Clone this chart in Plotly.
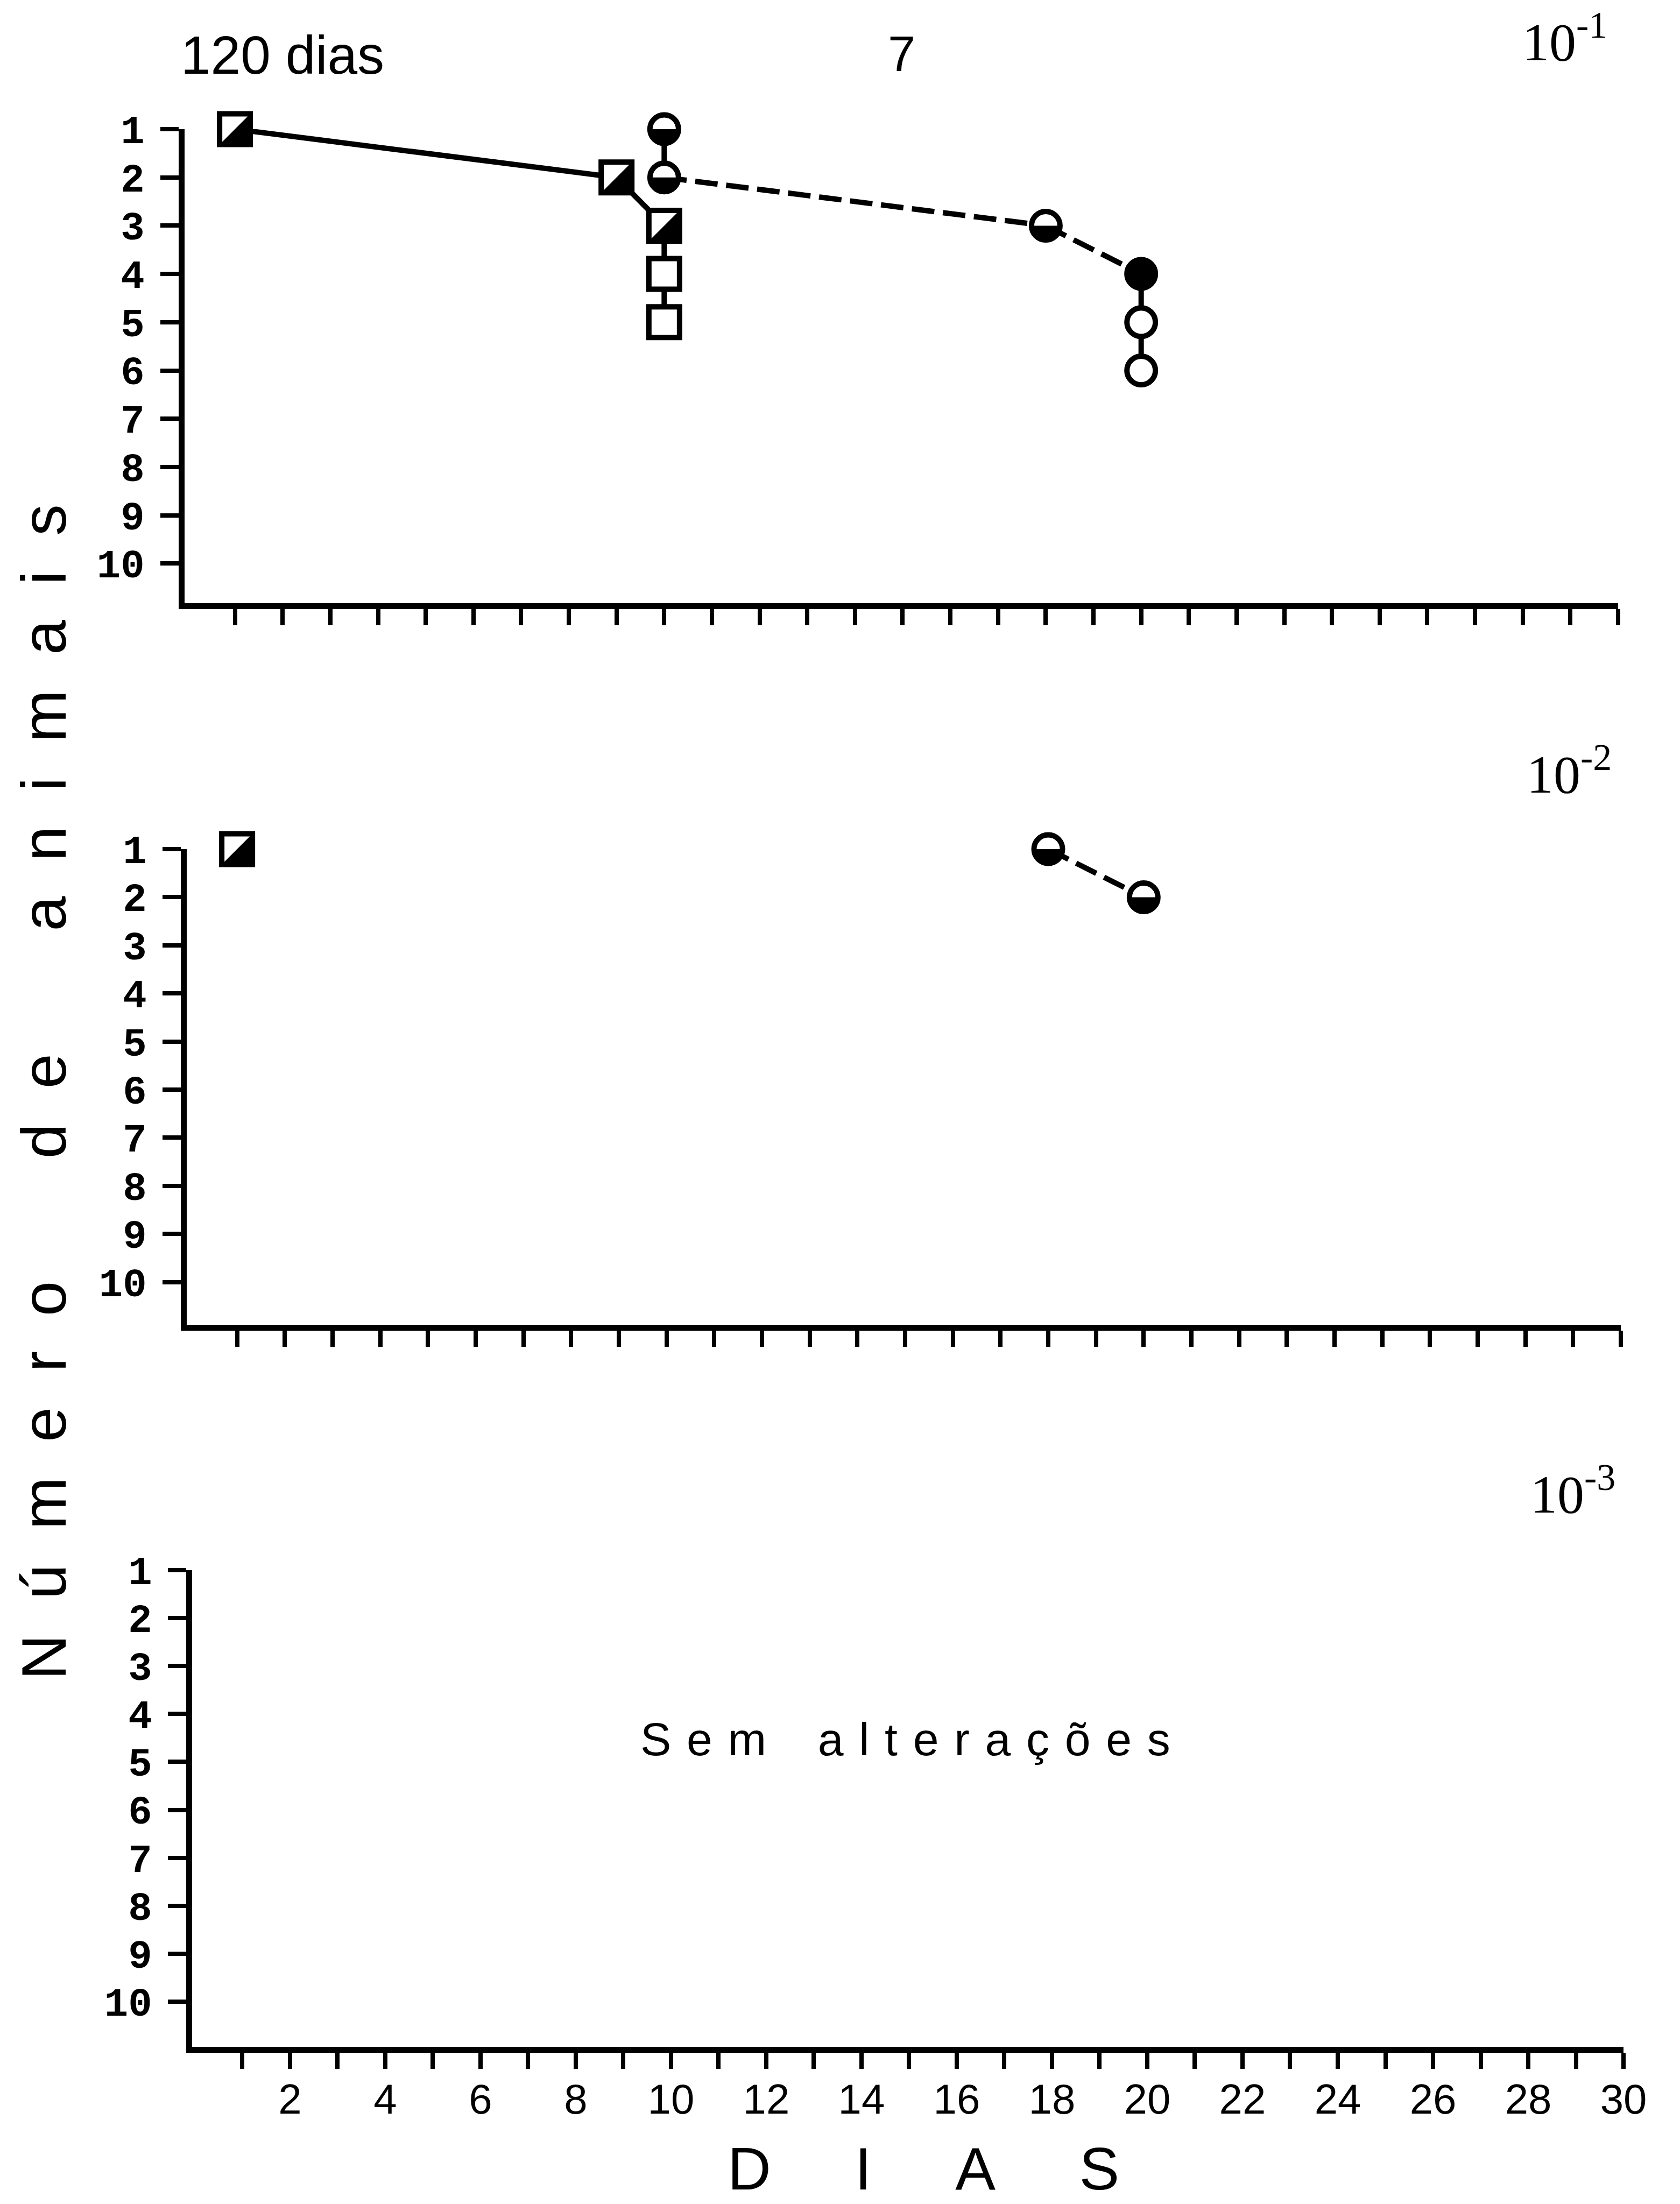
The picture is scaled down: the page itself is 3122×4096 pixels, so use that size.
import plotly.graph_objects as go

W, H = 3122, 4096

# ---------------- data ----------------
# Panel 10^-1
sq_days_1 = [1, 9, 10, 10, 10]
sq_n_1 = [1, 2, 3, 4, 5]
sq_fill_1 = ["half", "half", "half", "open", "open"]
ci_days_1 = [10, 10, 18, 20, 20, 20]
ci_n_1 = [1, 2, 3, 4, 5, 6]
ci_fill_1 = ["half", "half", "half", "full", "open", "open"]
# Panel 10^-2
sq_days_2 = [1]
sq_n_2 = [1]
sq_fill_2 = ["half"]
ci_days_2 = [18, 20]
ci_n_2 = [1, 2]
ci_fill_2 = ["half", "half"]
# Panel 10^-3 : no data ("Sem alterações")

y_tick_vals = list(range(1, 11))
x_label_vals = list(range(2, 31, 2))
x_minor_vals = list(range(1, 30, 2))
dilution_labels = ["10<sup>-1</sup>", "10<sup>-2</sup>", "10<sup>-3</sup>"]

# ---------------- geometry / style ----------------
LW = 11          # axis line width
LINE_W = 10      # data line width
SQ = 57          # square marker size
CI = 53          # circle marker size
MLW = 10         # marker outline width
EXT = 70         # extra px for hidden shape axes
XTL = 30         # x tick length
PANELS = [
    dict(xl=337, xr=3007, ytop=240, yline=1126, ppu=89.7, lab=(2827, 115)),
    dict(xl=341, xr=3012, ytop=1578, yline=2467, ppu=89.4, lab=(2835, 1476)),
    dict(xl=351, xr=3017, ytop=2918, yline=3809, ppu=89.1, lab=(2842, 2814)),
]

layout = dict(
    width=W, height=H, margin=dict(l=0, r=0, t=0, b=0, pad=0, autoexpand=False),
    paper_bgcolor="white", plot_bgcolor="rgba(0,0,0,0)", showlegend=False,
    font=dict(family="Liberation Sans", color="black"),
)

for i, p in enumerate(PANELS):
    sfx = "" if i == 0 else str(i + 1)
    ppx = (p["xr"] - p["xl"]) / 30.0
    x_dom = [(p["xl"] + LW / 2) / W, p["xr"] / W]
    x_min = -(LW / 2) / ppx
    y_bot_px = p["yline"] - LW / 2
    y_dom = [1 - y_bot_px / H, 1 - p["ytop"] / H]
    y_low = 1 + (y_bot_px - p["ytop"]) / p["ppu"]
    layout["xaxis" + sfx] = dict(
        domain=x_dom, range=[x_min, 30], anchor="y" + sfx, automargin=False,
        showline=True, linewidth=LW, linecolor="black",
        ticks="outside", ticklen=XTL, tickwidth=8, tickcolor="black",
        tickmode="array", tickvals=x_label_vals,
        ticktext=[str(v) for v in x_label_vals],
        minor=dict(tickmode="array", tickvals=x_minor_vals, ticks="outside",
                   ticklen=XTL, tickwidth=8, tickcolor="black", showgrid=False),
        showticklabels=(i == 2), ticklabelstandoff=-10,
        tickfont=dict(family="Liberation Sans", size=78, color="black"),
        showgrid=False, zeroline=False, fixedrange=True,
    )
    layout["yaxis" + sfx] = dict(
        domain=y_dom, range=[y_low, 1], anchor="x" + sfx, automargin=False,
        showline=True, linewidth=LW, linecolor="black",
        ticks="outside", ticklen=34, tickwidth=8, tickcolor="black",
        tickmode="array", tickvals=y_tick_vals,
        ticktext=[str(v) for v in y_tick_vals], ticklabelstandoff=14,
        tickfont=dict(family="Liberation Mono", size=74, color="black", weight="bold"),
        showgrid=False, zeroline=False, fixedrange=True,
    )
    if i < 2:
        # hidden twin y axis (same scale, taller domain) used for the half-fill shapes
        layout["yaxis" + str(i + 4)] = dict(
            domain=[y_dom[0], min(1.0, y_dom[1] + EXT / H)],
            range=[y_low, 1 - EXT / p["ppu"]],
            anchor="x" + sfx, visible=False, fixedrange=True, automargin=False,
        )

fig = go.Figure()

def add_panel(i, sq_d, sq_n, sq_f, ci_d, ci_n, ci_f):
    sfx = "" if i == 0 else str(i + 1)
    xa, ya = "x" + sfx, "y" + sfx
    # square series: solid line
    if len(sq_d) > 1:
        fig.add_trace(go.Scatter(x=sq_d, y=sq_n, mode="lines", xaxis=xa, yaxis=ya,
                                 line=dict(color="black", width=LINE_W), cliponaxis=False,
                                 hoverinfo="skip"))
    # circle series: vertical links solid, day-to-day links dashed
    sx, sy, dx, dy = [], [], [], []
    for k in range(len(ci_d) - 1):
        if ci_d[k] == ci_d[k + 1]:
            sx += [ci_d[k], ci_d[k + 1], None]; sy += [ci_n[k], ci_n[k + 1], None]
        else:
            dx += [ci_d[k], ci_d[k + 1], None]; dy += [ci_n[k], ci_n[k + 1], None]
    if sx:
        fig.add_trace(go.Scatter(x=sx, y=sy, mode="lines", xaxis=xa, yaxis=ya,
                                 line=dict(color="black", width=LINE_W), cliponaxis=False,
                                 hoverinfo="skip"))
    if dx:
        fig.add_trace(go.Scatter(x=dx, y=dy, mode="lines", xaxis=xa, yaxis=ya,
                                 line=dict(color="black", width=LINE_W, dash="42px,16px"),
                                 cliponaxis=False, hoverinfo="skip"))
    # markers
    fig.add_trace(go.Scatter(x=sq_d, y=sq_n, mode="markers", xaxis=xa, yaxis=ya,
                             marker=dict(symbol="square", size=SQ,
                                         color=["black" if f == "full" else "white" for f in sq_f],
                                         line=dict(color="black", width=MLW)),
                             cliponaxis=False, hoverinfo="skip"))
    fig.add_trace(go.Scatter(x=ci_d, y=ci_n, mode="markers", xaxis=xa, yaxis=ya,
                             marker=dict(symbol="circle", size=CI,
                                         color=["black" if f == "full" else "white" for f in ci_f],
                                         line=dict(color="black", width=MLW)),
                             cliponaxis=False, hoverinfo="skip"))
    # dummy trace on hidden twin axis so that its subplot exists
    yh = "y" + str(i + 4)
    fig.add_trace(go.Scatter(x=[None], y=[None], mode="markers", xaxis=xa, yaxis=yh,
                             hoverinfo="skip"))
    # half fills as pixel-sized shapes anchored on the data values
    h = SQ / 2
    tri = f"M{h},{h} L{h},{-h} L{-h},{-h} Z"
    R = CI / 2
    k = 0.5523 * R
    semi = f"M{-R},0 C{-R},{-k} {-k},{-R} 0,{-R} C{k},{-R} {R},{-k} {R},0 Z"
    for d, n, f in zip(sq_d, sq_n, sq_f):
        if f == "half":
            fig.add_shape(type="path", xref=xa, yref=yh, xsizemode="pixel", ysizemode="pixel",
                          xanchor=d, yanchor=n, path=tri, fillcolor="black",
                          line=dict(width=0), layer="above")
    for d, n, f in zip(ci_d, ci_n, ci_f):
        if f == "half":
            fig.add_shape(type="path", xref=xa, yref=yh, xsizemode="pixel", ysizemode="pixel",
                          xanchor=d, yanchor=n, path=semi, fillcolor="black",
                          line=dict(width=0), layer="above")

add_panel(0, sq_days_1, sq_n_1, sq_fill_1, ci_days_1, ci_n_1, ci_fill_1)
add_panel(1, sq_days_2, sq_n_2, sq_fill_2, ci_days_2, ci_n_2, ci_fill_2)

# empty third panel needs a trace reference too
fig.add_trace(go.Scatter(x=[None], y=[None], xaxis="x3", yaxis="y3", mode="markers",
                         hoverinfo="skip"))

fig.update_layout(**layout)

NB = "\u00a0"

def spaced(text, gap, word_gap):
    words = text.split(" ")
    return word_gap.join(gap.join(list(w)) for w in words)

def ann(text, x_px, y_px, size, family="Liberation Sans", xanchor="center",
        yanchor="middle", angle=0):
    fig.add_annotation(text=text, x=x_px / W, y=1 - y_px / H, xref="paper", yref="paper",
                       xanchor=xanchor, yanchor=yanchor, showarrow=False, textangle=angle,
                       font=dict(family=family, size=size, color="black"))

ann("120 dias", 334, 102, 100, xanchor="left")
ann("7", 1675, 100, 92)
for p, lab in zip(PANELS, dilution_labels):
    ann(lab, p["lab"][0], p["lab"][1] + 21, 100, family="Liberation Serif",
        xanchor="left", yanchor="bottom")
ann(spaced("Sem alterações", "\u2004", " " + NB * 3), 1682, 3232, 86)
ann(spaced("DIAS", NB * 5, ""), 1716, 4030, 112)
ann(spaced("Número de animais", NB * 2, NB * 7), 81, 2030, 117, angle=-90)

fig.write_html("out.html")
